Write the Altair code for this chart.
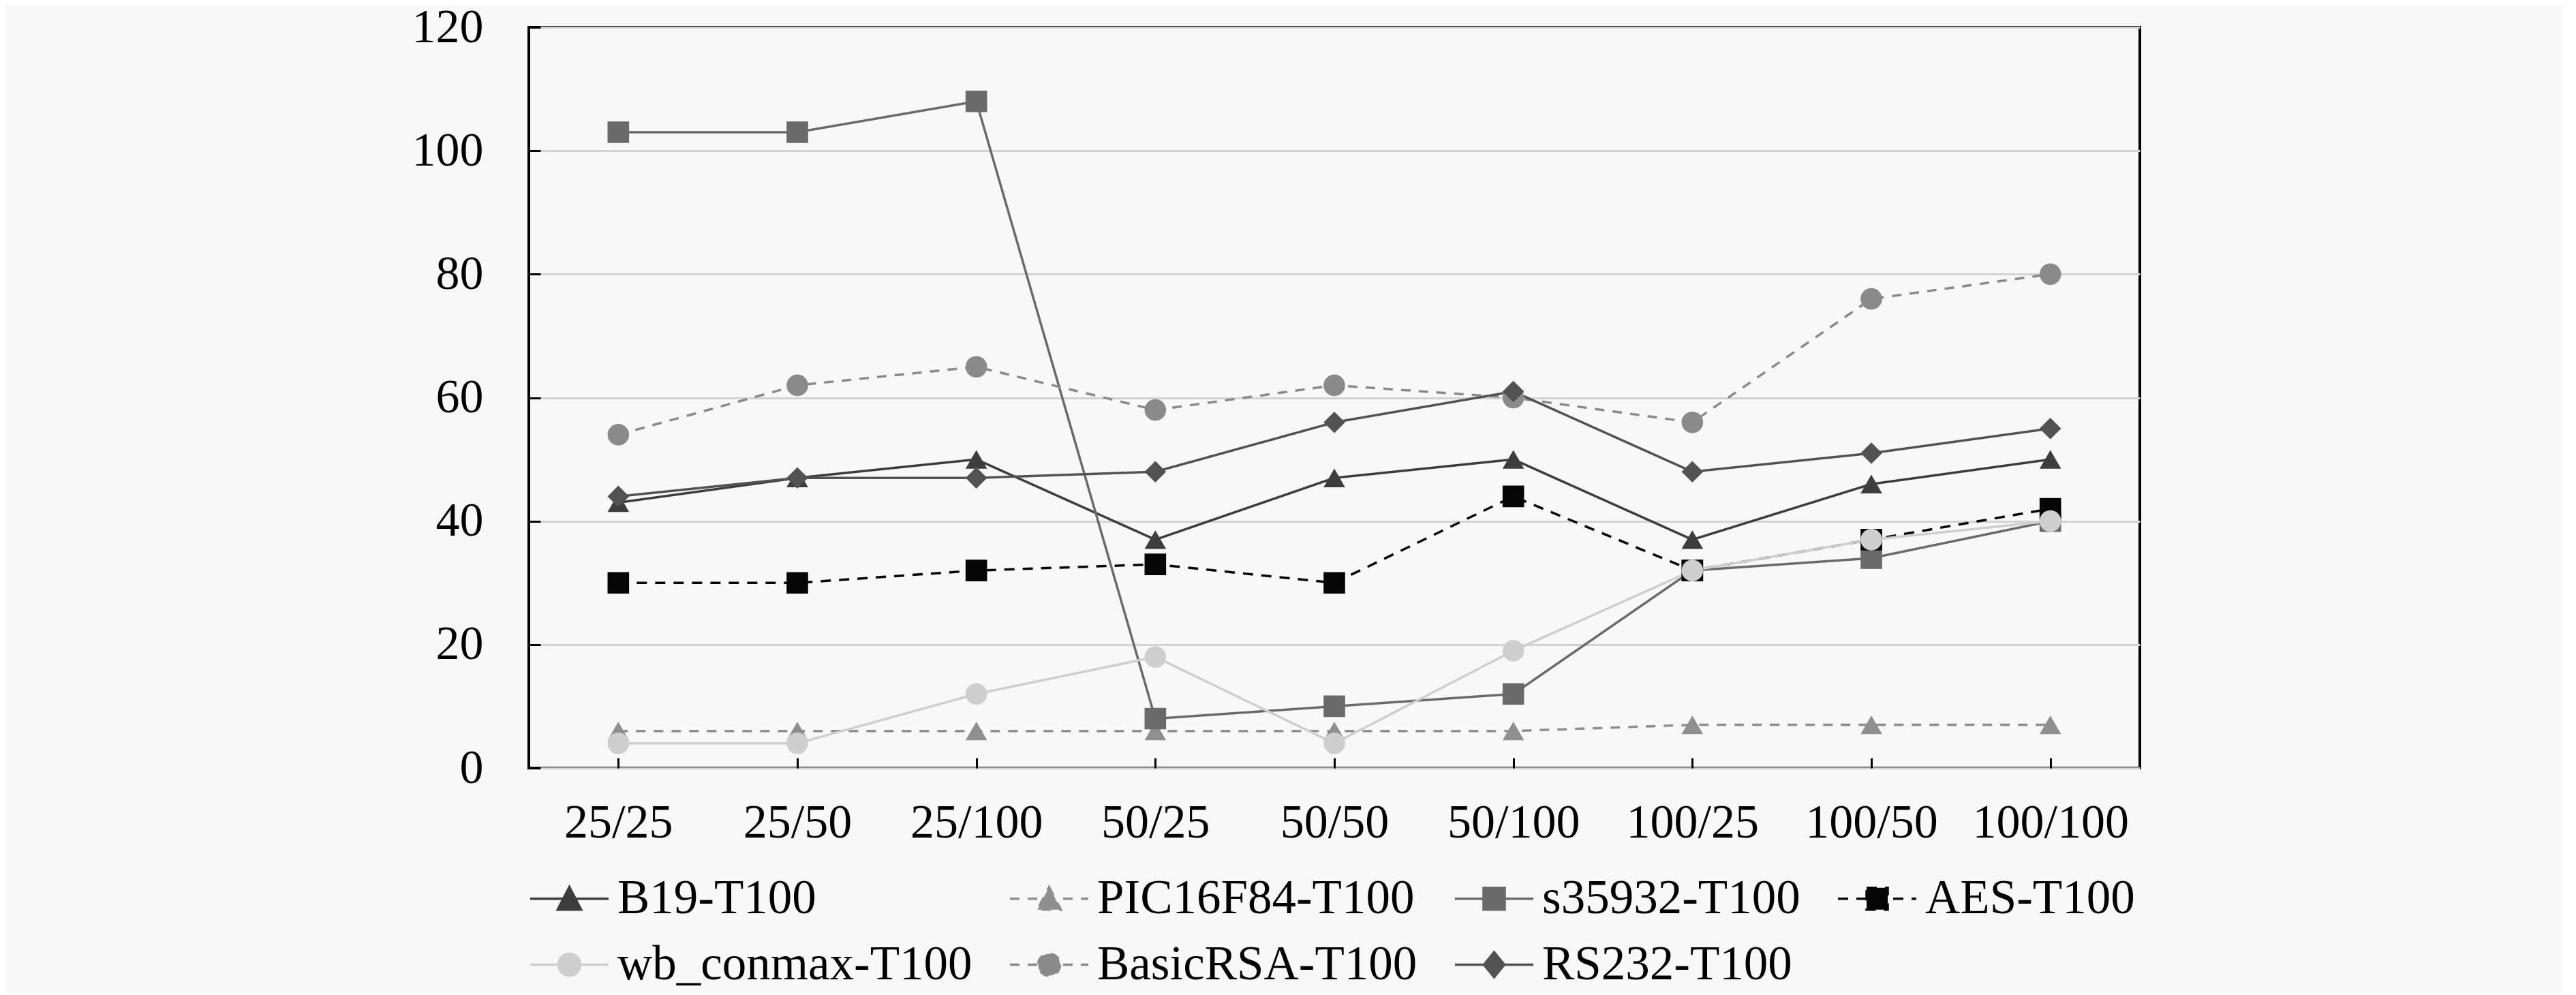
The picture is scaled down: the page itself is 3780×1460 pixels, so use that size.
import altair as alt
import pandas as pd

categories = ["25/25", "25/50", "25/100", "50/25", "50/50", "50/100", "100/25", "100/50", "100/100"]
series = ["B19-T100", "PIC16F84-T100", "s35932-T100", "AES-T100",
          "wb_conmax-T100", "BasicRSA-T100", "RS232-T100"]

b19 = [43, 47, 50, 37, 47, 50, 37, 46, 50]
pic16f84 = [6, 6, 6, 6, 6, 6, 7, 7, 7]
s35932 = [103, 103, 108, 8, 10, 12, 32, 34, 40]
aes = [30, 30, 32, 33, 30, 44, 32, 37, 42]
wb_conmax = [4, 4, 12, 18, 4, 19, 32, 37, 40]
basicrsa = [54, 62, 65, 58, 62, 60, 56, 76, 80]
rs232 = [44, 47, 47, 48, 56, 61, 48, 51, 55]

y_ticks = [0, 20, 40, 60, 80, 100, 120]

# styles
colors = ["#3d3d3d", "#8f8f8f", "#6a6a6a", "#050505", "#cfcfcf", "#8a8a8a", "#525252"]
dashes = [[1, 0], [14, 12], [1, 0], [15, 12], [1, 0], [14, 12], [1, 0]]
markers = ["triangle-up", "triangle-up", "square", "square", "circle", "circle", "diamond"]

# legend symbols: short line segment with the marker in its centre
legend_paths = {
    "triangle-up": "M-1,0H1M0,-0.3L0.3,0.28L-0.3,0.28Z",
    "square": "M-1,0H1M-0.27,-0.28H0.27V0.28H-0.27Z",
    "circle": "M-1,0H1M0.28,0A0.28,0.28,0,1,1,-0.28,0A0.28,0.28,0,1,1,0.28,0Z",
    "diamond": "M-1,0H1M0,-0.32L0.26,0L0,0.32L-0.26,0Z",
}

values = [b19, pic16f84, s35932, aes, wb_conmax, basicrsa, rs232]
rows = []
for s, vals in zip(series, values):
    for i, (c, v) in enumerate(zip(categories, vals)):
        rows.append({"category": c, "idx": i, "series": s, "value": v})
df = pd.DataFrame(rows)

FONT = "Liberation Serif"

x_enc = alt.X("category:N", sort=categories,
              scale=alt.Scale(type="point", padding=0.5),
              axis=alt.Axis(title=None, labelAngle=0, grid=False, domain=False,
                            ticks=True, tickSize=15, tickWidth=3, tickColor="#000000",
                            offset=-15, labelPadding=46, labelLimit=0))
y_enc = alt.Y("value:Q", scale=alt.Scale(domain=[0, 120], nice=False, zero=True),
              axis=alt.Axis(title=None, values=y_ticks, grid=True, domain=False,
                            ticks=True, tickSize=17, tickWidth=3, tickColor="#000000",
                            offset=-17, labelPadding=67, labelLimit=0,
                            gridColor="#d3d3d3", gridWidth=3))

base = alt.Chart(df)

lines = base.mark_line(strokeWidth=3.5).encode(
    x=x_enc,
    y=y_enc,
    stroke=alt.Stroke("series:N", scale=alt.Scale(domain=series, range=colors)),
    strokeDash=alt.StrokeDash("series:N", scale=alt.Scale(domain=series, range=dashes)),
    order=alt.Order("idx:Q"),
)

layers = [lines]
for kind in ["triangle-up", "square", "circle", "diamond"]:
    members = [s for s, m in zip(series, markers) if m == kind]
    pts = base.mark_point(shape=kind, filled=True, size=1000, opacity=1).encode(
        x=x_enc,
        y=y_enc,
        fill=alt.Fill("series:N", scale=alt.Scale(domain=series, range=colors)),
    ).transform_filter(alt.FieldOneOfPredicate(field="series", oneOf=members))
    layers.append(pts)

legend_layer = base.mark_point(filled=True, opacity=1).encode(
    shape=alt.Shape("series:N",
                    scale=alt.Scale(domain=series, range=[legend_paths[m] for m in markers])),
).transform_filter("false")
layers.append(legend_layer)

chart = alt.layer(*layers).properties(
    width=2364,
    height=1087,
    autosize=alt.AutoSizeParams(type="none"),
    padding={"left": 768, "top": 32, "right": 620, "bottom": 330},
    background="#f8f8f8",
).configure_view(
    stroke="#000000", strokeWidth=4, fill="#f8f8f8"
).configure_axis(
    labelFont=FONT, labelFontSize=70, labelColor="#000000",
).configure_legend(
    orient="bottom", direction="horizontal", columns=4, title=None,
    labelFont=FONT, labelFontSize=71, labelColor="#000000", labelLimit=0,
    symbolSize=13225, symbolStrokeWidth=3.5, labelOffset=11,
    columnPadding=48, rowPadding=2, offset=17, padding=0,
)

chart.save("out.html", embed_options={"renderer": "svg", "actions": False})
